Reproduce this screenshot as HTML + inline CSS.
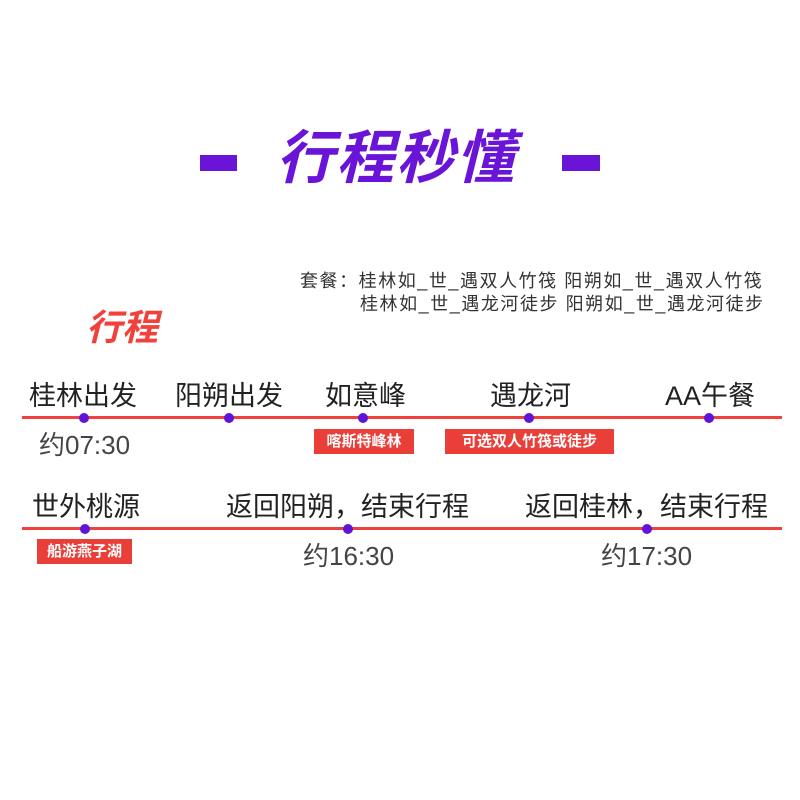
<!DOCTYPE html><html><head><meta charset="utf-8"><style>
body{margin:0;width:800px;height:800px;background:#fff;position:relative;overflow:hidden;font-family:"Liberation Sans","Noto Sans CJK SC",sans-serif}
.a{position:absolute;white-space:nowrap}
.l{position:absolute;height:3px;background:#f0413c;left:22px;width:760px}
.d{position:absolute;width:10px;height:10px;border-radius:50%;background:#6014d8}
.t{position:absolute;font-size:27px;color:#222;white-space:nowrap;line-height:1}
.g{position:absolute;background:#ea3f38;color:#fff;font-size:15px;line-height:25px;height:25px;text-align:center;font-weight:bold}
.m{position:absolute;font-size:26px;color:#444;line-height:1}
</style></head><body>
<div class="a" style="left:200px;top:155px;width:37px;height:16px;background:#6a14d8"></div>
<div class="a" style="left:562px;top:155px;width:38px;height:16px;background:#6a14d8"></div>
<div class="a" style="left:276px;top:126px;font-size:58px;font-weight:bold;font-style:italic;color:#6a14d8;line-height:66px;letter-spacing:2px">行程秒懂</div>
<div class="a" style="left:300px;top:269px;font-size:18px;letter-spacing:1.55px;color:#333;line-height:24px">套餐：桂林如_世_遇双人竹筏 阳朔如_世_遇双人竹筏</div>
<div class="a" style="left:360px;top:292px;font-size:18px;letter-spacing:1.55px;color:#333;line-height:24px">桂林如_世_遇龙河徒步 阳朔如_世_遇龙河徒步</div>
<div class="a" style="left:86px;top:306px;font-size:36px;font-style:italic;font-weight:bold;color:#f0413c;line-height:44px">行程</div>
<div class="l" style="top:416px"></div>
<div class="l" style="top:527px"></div>
<div class="d" style="left:79px;top:413px"></div>
<div class="d" style="left:224px;top:413px"></div>
<div class="d" style="left:358px;top:413px"></div>
<div class="d" style="left:524px;top:413px"></div>
<div class="d" style="left:704px;top:413px"></div>
<div class="d" style="left:80px;top:524px"></div>
<div class="d" style="left:343px;top:524px"></div>
<div class="d" style="left:642px;top:524px"></div>
<div class="t" style="left:29px;top:383px">桂林出发</div>
<div class="t" style="left:175px;top:383px">阳朔出发</div>
<div class="t" style="left:325px;top:383px">如意峰</div>
<div class="t" style="left:490px;top:383px">遇龙河</div>
<div class="t" style="left:665px;top:383px">AA午餐</div>
<div class="t" style="left:32px;top:494px">世外桃源</div>
<div class="t" style="left:226px;top:494px">返回阳朔，结束行程</div>
<div class="t" style="left:525px;top:494px">返回桂林，结束行程</div>
<div class="m" style="left:39px;top:432px">约07:30</div>
<div class="m" style="left:303px;top:543px">约16:30</div>
<div class="m" style="left:601px;top:543px">约17:30</div>
<div class="g" style="left:314px;top:429px;width:100px">喀斯特峰林</div>
<div class="g" style="left:445px;top:429px;width:169px">可选双人竹筏或徒步</div>
<div class="g" style="left:37px;top:539px;width:95px">船游燕子湖</div>
</body></html>
